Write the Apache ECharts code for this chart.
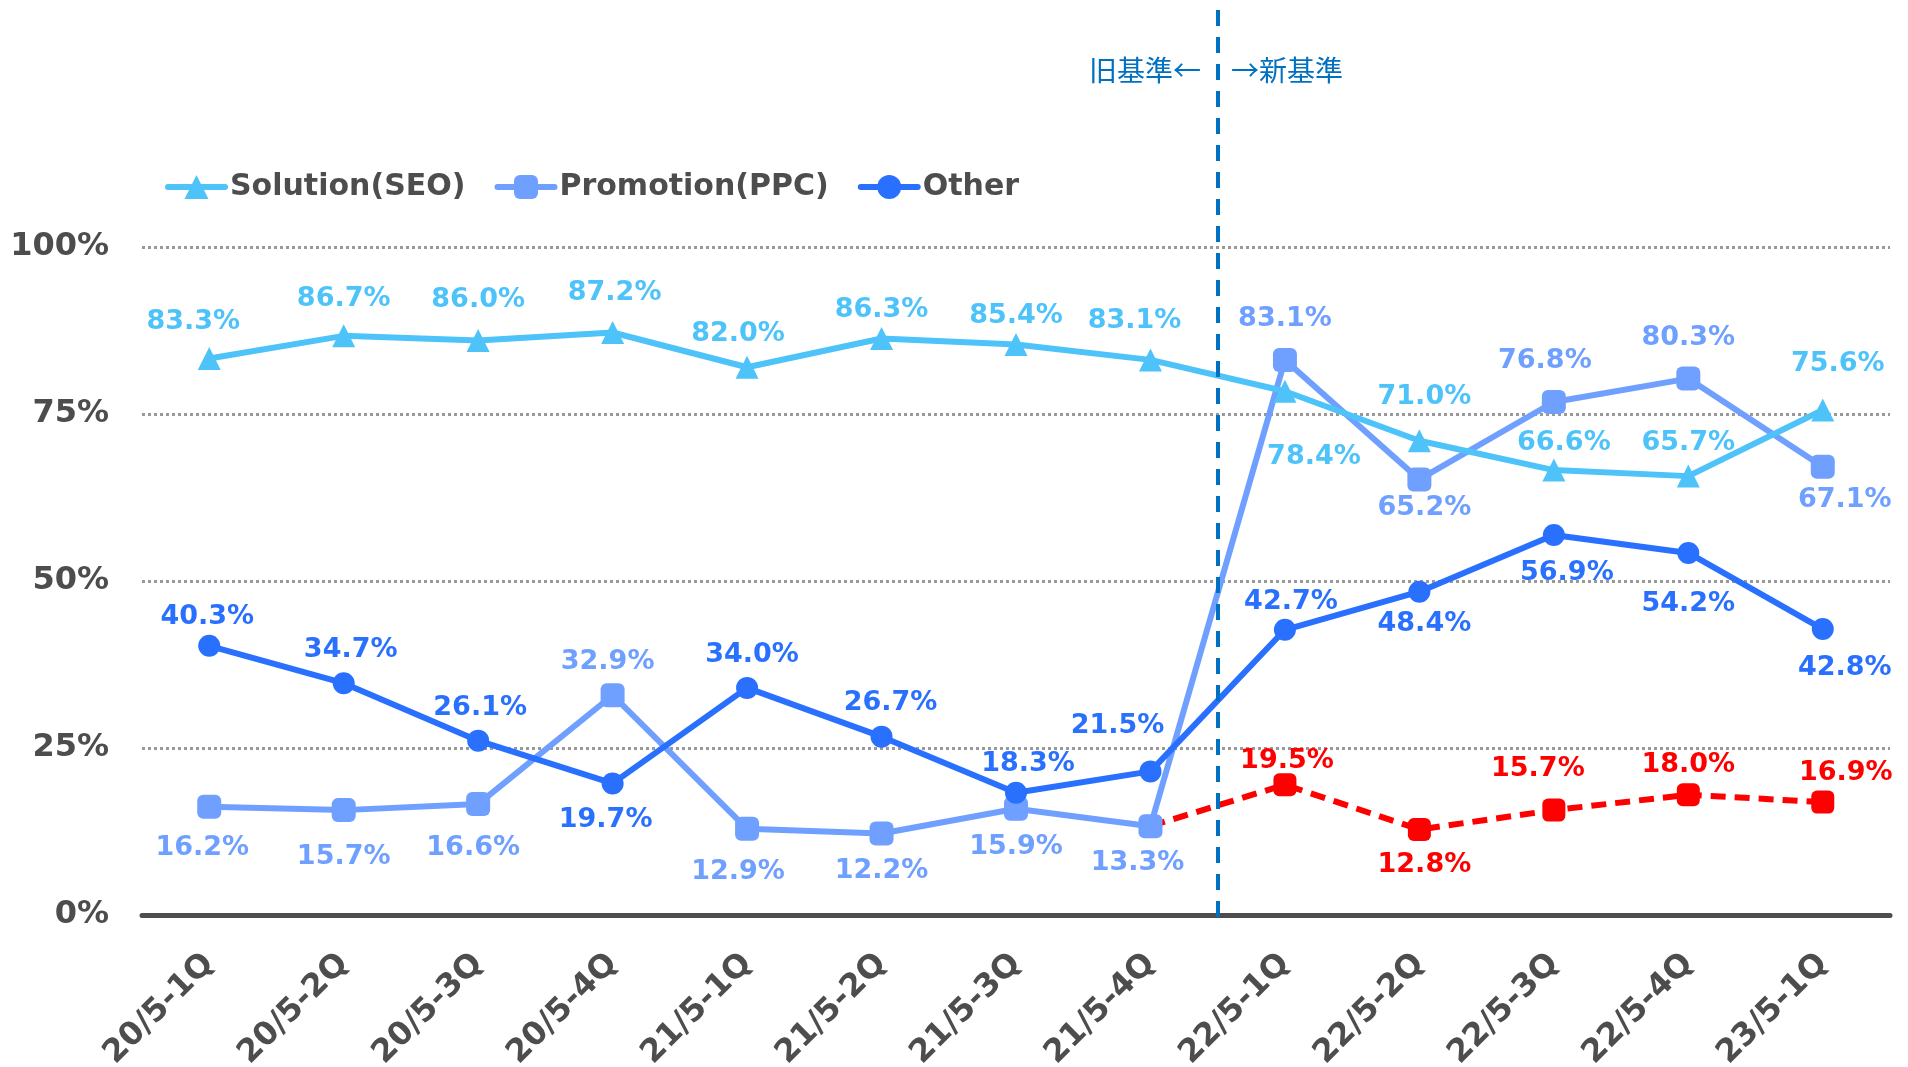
<!DOCTYPE html>
<html>
<head>
<meta charset="utf-8">
<script src="https://cdn.jsdelivr.net/npm/echarts@6/dist/echarts.min.js"></script>
<style>
html,body{margin:0;padding:0;background:#fff;}
#main{width:1908px;height:1067px;}
</style>
</head>
<body>
<div id="main"></div>
<script>
// ---- data ----
const categories = ['20/5-1Q','20/5-2Q','20/5-3Q','20/5-4Q','21/5-1Q','21/5-2Q','21/5-3Q','21/5-4Q','22/5-1Q','22/5-2Q','22/5-3Q','22/5-4Q','23/5-1Q'];
const seoValues   = [83.3, 86.7, 86.0, 87.2, 82.0, 86.3, 85.4, 83.1, 78.4, 71.0, 66.6, 65.7, 75.6];
const ppcValues   = [16.2, 15.7, 16.6, 32.9, 12.9, 12.2, 15.9, 13.3, 83.1, 65.2, 76.8, 80.3, 67.1];
const otherValues = [40.3, 34.7, 26.1, 19.7, 34.0, 26.7, 18.3, 21.5, 42.7, 48.4, 56.9, 54.2, 42.8];
const newValues   = [null, null, null, null, null, null, null, 13.3, 19.5, 12.8, 15.7, 18.0, 16.9];
const yTicks = [0, 25, 50, 75, 100];
const seriesNames = ['Solution(SEO)', 'Promotion(PPC)', 'Other'];

// ---- label placement (pixels, relative to the point) ----
const seoDx = [-16, 0, 0, 2, -9, 0, 0, -16, 29, 5, 10, 0, 15];
const seoDy = [-37, -37, -41, -40, -33, -29, -29, -39, 66, -44, -27, -33, -46];
const ppcDx = [-7, 0, -5, -5, -9, 0, 0, -13, 0, 5, -9, 0, 22];
const ppcDy = [41, 47, 44, -33, 43, 37, 38, 37, -41, 29, -41, -41, 33];
const othDx = [-2, 7, 2, -7, 5, 9, 12, -33, 6, 5, 13, 0, 22];
const othDy = [-29, -33, -33, 37, -33, -34, -29, -45, -28, 32, 38, 51, 39];
const newDx = [0, 0, 0, 0, 0, 0, 0, 0, 2, 5, -16, 0, 23];
const newDy = [0, 0, 0, 0, 0, 0, 0, 0, -24, 35, -41, -30, -29];

const C_SEO = '#4EC3FA', C_PPC = '#70A0FF', C_OTH = '#2A70FF', C_NEW = '#FF0000';
const GRAY = '#4d4d4d';
const FONT = 'DejaVu Sans';

function build(values, dx, dy, skipIdx) {
  return values.map((v, i) => {
    if (v === null) return null;
    const item = {
      value: v,
      label: { show: true, position: 'inside', offset: [dx[i], dy[i]] }
    };
    if (skipIdx !== undefined && i === skipIdx) {
      item.label = { show: false };
      item.symbol = 'none';
    }
    return item;
  });
}

const labelStyle = (color) => ({
  show: true,
  color: color,
  fontFamily: FONT,
  fontWeight: 'bold',
  fontSize: 27,
  formatter: (p) => p.value.toFixed(1) + '%'
});

const chart = echarts.init(document.getElementById('main'), null, {renderer: 'canvas'});
const option = {
  animation: false,
  backgroundColor: '#fff',
  grid: { left: 142, right: 18, top: 247, bottom: 152, containLabel: false, outerBoundsMode: 'none' },
  legend: {
    data: seriesNames,
    left: 165, top: 172, padding: 0,
    itemWidth: 57, itemHeight: 30, itemGap: 29,
    lineStyle: { width: 6, cap: 'round' },
    textStyle: { color: GRAY, fontFamily: FONT, fontWeight: 'bold', fontSize: 30 }
  },
  xAxis: {
    type: 'category',
    data: categories,
    boundaryGap: true,
    axisLine: { lineStyle: { color: GRAY, width: 5 } },
    axisTick: { show: false },
    axisLabel: {
      interval: 0, rotate: 45, margin: 44,
      color: GRAY, fontFamily: FONT, fontWeight: 'bold', fontSize: 32
    }
  },
  yAxis: {
    type: 'value',
    min: yTicks[0], max: yTicks[yTicks.length - 1], interval: 25,
    axisLine: { show: false },
    axisTick: { show: false },
    axisLabel: {
      margin: 33, formatter: '{value}%',
      color: GRAY, fontFamily: FONT, fontWeight: 'bold', fontSize: 32
    },
    splitLine: { lineStyle: { color: '#999', width: 3, type: [3, 3] } }
  },
  series: [
    {
      name: 'Promotion(PPC)', type: 'line',
      data: build(ppcValues, ppcDx, ppcDy),
      symbol: 'roundRect', symbolSize: 24,
      lineStyle: { color: C_PPC, width: 6 },
      itemStyle: { color: C_PPC },
      label: labelStyle(C_PPC), z: 2
    },
    {
      name: 'Solution(SEO)', type: 'line',
      data: build(seoValues, seoDx, seoDy),
      symbol: 'triangle', symbolSize: 23,
      lineStyle: { color: C_SEO, width: 6 },
      itemStyle: { color: C_SEO },
      label: labelStyle(C_SEO), z: 3
    },
    {
      name: 'Other', type: 'line',
      data: build(otherValues, othDx, othDy),
      symbol: 'circle', symbolSize: 22,
      lineStyle: { color: C_OTH, width: 6 },
      itemStyle: { color: C_OTH },
      label: labelStyle(C_OTH), z: 4
    },
    {
      name: 'new', type: 'line',
      data: build(newValues, newDx, newDy, 7),
      symbol: 'roundRect', symbolSize: 23,
      lineStyle: { color: C_NEW, width: 6, type: [15, 9] },
      itemStyle: { color: C_NEW },
      label: labelStyle(C_NEW), z: 1
    }
  ]
};
chart.setOption(option);

// boundary between old / new standards (between 21/5-4Q and 22/5-1Q)
const xa = chart.convertToPixel({xAxisIndex: 0}, categories[7]);
const xb = chart.convertToPixel({xAxisIndex: 0}, categories[8]);
const xm = Math.round((xa + xb) / 2);
chart.setOption({
  graphic: [
    {
      type: 'line', z: 10,
      shape: { x1: xm, y1: 10, x2: xm, y2: 921 },
      style: { stroke: '#0070C0', lineWidth: 4, lineDash: [16, 11] }
    },
    {
      type: 'text', z: 10, x: xm - 17, y: 70,
      style: { text: '旧基準←', fill: '#0070C0', font: '28px "Noto Sans CJK JP"', align: 'right', verticalAlign: 'middle' }
    },
    {
      type: 'text', z: 10, x: xm + 13, y: 70,
      style: { text: '→新基準', fill: '#0070C0', font: '28px "Noto Sans CJK JP"', align: 'left', verticalAlign: 'middle' }
    }
  ]
});
</script>
</body>
</html>
